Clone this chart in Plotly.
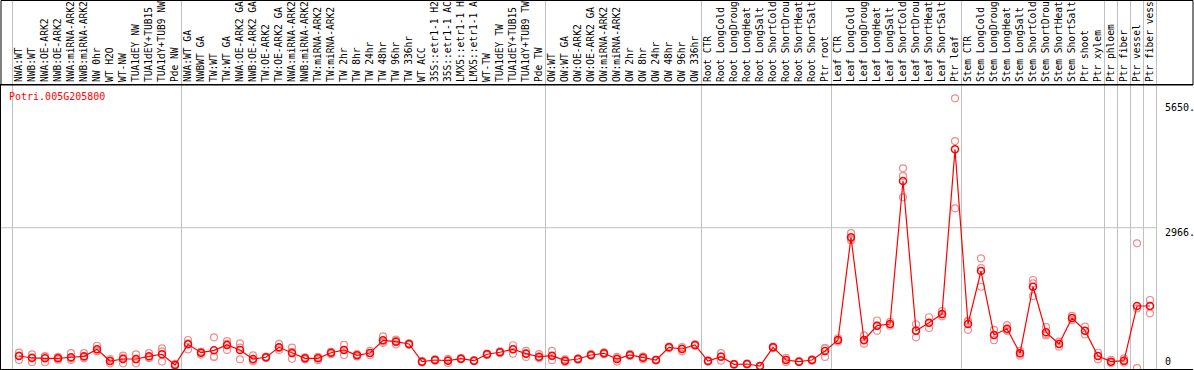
import plotly.graph_objects as go

labels = [
    "NWA:WT", "NWB:WT", "NWA:OE-ARK2", "NWB:OE-ARK2", "NWA:miRNA-ARK2", "NWB:miRNA-ARK2",
    "NW 0hr", "WT H2O", "WT-NW", "TUA1dEY NW", "TUA1dEY+TUB15", "TUA1dY+TUB9 NW", "Pde NW",
    "NWA:WT GA", "NWBWT GA", "TW:WT", "TW:WT GA", "NWA:OE-ARK2 GA", "NWB:OE-ARK2 GA",
    "TW:OE-ARK2", "TW:OE-ARK2 GA", "NWA:miRNA-ARK2", "NWB:miRNA-ARK2", "TW:miRNA-ARK2",
    "TW:miRNA-ARK2", "TW 2hr", "TW 8hr", "TW 24hr", "TW 48hr", "TW 96hr", "TW 336hr",
    "WT ACC", "35S::etr1-1 H2", "35S::etr1-1 AC", "LMX5::etr1-1 H", "LMX5::etr1-1 A",
    "WT-TW", "TUA1dEY TW", "TUA1dEY+TUB15", "TUA1dY+TUB9 TW", "Pde TW",
    "OW:WT", "OW:WT GA", "OW:OE-ARK2", "OW:OE-ARK2 GA", "OW:miRNA-ARK2", "OW:miRNA-ARK2",
    "OW 2hr", "OW 8hr", "OW 24hr", "OW 48hr", "OW 96hr", "OW 336hr",
    "Root CTR", "Root LongCold", "Root LongDroug", "Root LongHeat", "Root LongSalt",
    "Root ShortCold", "Root ShortDrou", "Root ShortHeat", "Root ShortSalt", "Ptr root",
    "Leaf CTR", "Leaf LongCold", "Leaf LongDroug", "Leaf LongHeat", "Leaf LongSalt",
    "Leaf ShortCold", "Leaf ShortDrou", "Leaf ShortHeat", "Leaf ShortSalt", "Ptr leaf",
    "Stem CTR", "Stem LongCold", "Stem LongDroug", "Stem LongHeat", "Stem LongSalt",
    "Stem ShortCold", "Stem ShortDrou", "Stem ShortHeat", "Stem ShortSalt", "Ptr shoot",
    "Ptr xylem", "Ptr phloem", "Ptr fiber", "Ptr vessel", "Ptr fiber vess",
]

mean_vals = [
    220, 178, 171, 171, 193, 214, 364, 113, 156, 156, 214, 257, 28,
    470, 291, 342, 456, 349, 156, 193, 406, 285, 171, 171, 291, 349, 235, 285,
    556, 527, 477, 99, 135, 120, 163, 120, 257, 300, 364, 270, 205,
    227, 120, 156, 242, 278, 156, 242, 185, 135, 406, 370, 456,
    113, 205, 43, 49, 6, 406, 135, 99, 135, 327,
    563, 2761, 563, 869, 905, 3966, 762, 933, 1119, 4644,
    905, 2039, 670, 805, 278, 1703, 728, 477, 1034, 762,
    220, 99, 120, 1290, 1290,
]

rep1 = [
    291, 257, 220, 200, 280, 280, 440, 156, 227, 257, 280, 385, 50,
    563, 310, 620, 540, 490, 235, 210, 480, 400, 190, 200, 310, 460, 260, 330,
    640, 570, 490, 80, 150, 70, 175, 130, 270, 290, 450, 330, 260,
    330, 90, 170, 260, 300, 100, 260, 150, 140, 420, 320, 470,
    120, 280, 40, 60, 10, 420, 180, 110, 150, 390,
    600, 2850, 660, 980, 950, 4237, 900, 1050, 1180, 5735,
    960, 2311, 780, 880, 330, 1847, 840, 530, 1080, 850,
    290, 140, 170, 2632, 1419,
]

rep2 = [
    135, 86, 86, 140, 135, 170, 330, 64, 64, 64, 180, 320, 20,
    360, 255, 200, 350, 150, 110, 180, 350, 160, 150, 130, 260, 240, 210, 240,
    500, 470, 460, 110, 120, 160, 150, 110, 240, 320, 270, 200, 170,
    130, 150, 140, 225, 260, 200, 220, 200, 125, 390, 410, 440,
    100, 120, 50, 40, 3, 390, 90, 90, 120, 200,
    530, 2700, 480, 760, 870, 3616, 620, 820, 1070, 3381,
    780, 1703, 560, 760, 230, 1504, 660, 420, 990, 680,
    150, 70, 80, -40, 1134,
]

rep3 = [
    230, 190, 200, 175, 170, 200, 320, 120, 180, 150, 185, 100, 15,
    490, 310, 205, 480, 400, 125, 190, 390, 310, 175, 185, 300, 350, 235, 285,
    530, 540, 480, 105, 140, 130, 165, 120, 260, 290, 370, 280, 190,
    220, 120, 160, 240, 275, 170, 245, 205, 140, 410, 380, 460,
    120, 215, 40, 45, 5, 410, 140, 100, 135, 390,
    560, 2733, 550, 870, 900, 4072, 770, 930, 1110, 4821,
    975, 2103, 670, 775, 275, 1776, 690, 480, 1030, 760,
    220, 90, 110, 1238, 1290,
]

group_breaks = [-0.5, 12.5, 40.5, 52.5, 62.5, 72.5, 83.5, 84.5, 85.5, 86.5, 87.5]
right_ticks = [5650, 2966, 0]
right_tick_text = ["5650.", "2966.", "0"]
gene_id = "Potri.005G205800"

idx = list(range(len(labels)))
mono = "DejaVu Sans Mono"
y_range = [-58, 6021]

fig = go.Figure()
for rep in (rep1, rep2, rep3):
    fig.add_trace(go.Scatter(
        x=idx, y=rep, mode="markers",
        marker=dict(symbol="circle-open", size=7, color="#f08c8c", line=dict(width=1.2)),
        hoverinfo="skip", showlegend=False,
    ))
fig.add_trace(go.Scatter(
    x=idx, y=mean_vals, mode="lines+markers",
    line=dict(color="#ff0000", width=1.2),
    marker=dict(symbol="circle-open", size=7, color="#ff0000", line=dict(width=1.5)),
    showlegend=False,
))

H = 370
plot_top = 85
plot_bottom = 369
ph = plot_bottom - plot_top
top_extra = (plot_top - 0.5) / ph

shapes = []
for b in group_breaks:
    shapes.append(dict(type="line", xref="x", yref="paper", x0=b, x1=b, y0=0, y1=1 + top_extra,
                       line=dict(color="#c0c0c0", width=1), layer="below"))
shapes.append(dict(type="line", xref="x", yref="y", x0=-1.5, x1=87.5, y0=2966, y1=2966,
                   line=dict(color="#c0c0c0", width=1), layer="below"))
shapes.append(dict(type="rect", xref="paper", yref="paper", x0=0, x1=1, y0=1, y1=1 + top_extra,
                   line=dict(color="black", width=1)))

annotations = [dict(text=gene_id, xref="paper", yref="paper", x=6 / 1192, y=1 - (96.7 - plot_top) / ph,
                    xanchor="left", yanchor="middle", showarrow=False,
                    font=dict(family=mono, size=10, color="#ff0000"))]
for v, t in zip(right_ticks, right_tick_text):
    yp = (v - y_range[0]) / (y_range[1] - y_range[0])
    annotations.append(dict(text=t, xref="x", yref="paper", x=88.0, y=yp,
                            xanchor="left", yanchor="middle",
                            yshift=-5 if v > 0 else 5,
                            showarrow=False, font=dict(family=mono, size=10, color="black")))

r0 = -18 / 13
r1 = r0 + 1192 / 13
fig.update_layout(
    width=1194, height=H,
    margin=dict(l=1, r=1, t=plot_top, b=H - plot_bottom, pad=0),
    paper_bgcolor="white", plot_bgcolor="white",
    xaxis=dict(range=[r0, r1], side="top", tickmode="array", tickvals=idx, ticktext=labels,
               tickangle=-90, tickfont=dict(family=mono, size=9.6, color="black"),
               showgrid=False, zeroline=False, showline=True, linecolor="black", linewidth=1,
               mirror=True, ticks="", automargin=False, fixedrange=True),
    yaxis=dict(range=y_range, showgrid=False, zeroline=False, showticklabels=False,
               showline=True, linecolor="black", linewidth=1, ticks="", automargin=False,
               fixedrange=True),
    shapes=shapes, annotations=annotations,
)

fig.write_html(
    "out.html",
    config={"displayModeBar": False},
    post_script="document.body.style.margin='0';document.body.style.overflow='hidden';",
)
